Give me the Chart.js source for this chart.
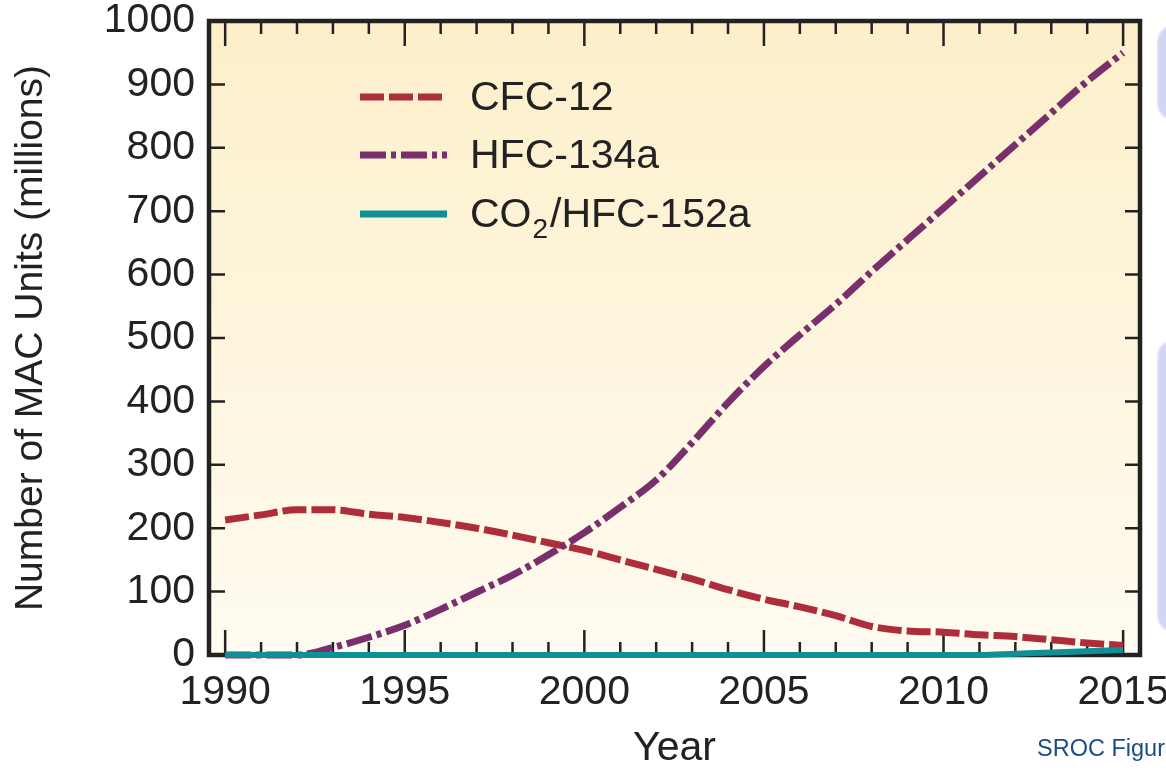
<!DOCTYPE html>
<html>
<head>
<meta charset="utf-8">
<script src="https://cdn.jsdelivr.net/npm/chart.js@4.4.1/dist/chart.umd.min.js"></script>
<style>
  html, body { margin: 0; padding: 0; background: #fff; overflow: hidden; }
  #wrap { position: relative; width: 1166px; height: 771px; overflow: hidden; }
  .side { position: absolute; left: 1157px; width: 40px; background: #d4d5f4;
          border: 2px solid #e2e3fa; border-radius: 16px; }
  #sroc { position: absolute; left: 1037px; top: 735px; font: 23.5px "Liberation Sans", Arial, sans-serif;
          color: #1c4c88; white-space: nowrap; }
</style>
</head>
<body>
<div id="wrap">
  <canvas id="macChart" width="1166" height="771"></canvas>
  <div class="side" style="top:25px;height:91px"></div>
  <div class="side" style="top:340px;height:288px"></div>
  <div id="sroc">SROC Figure</div>
</div>
<script>
const FONT = '"Liberation Sans", Arial, Helvetica, sans-serif';
const INK = '#222222';

// data (millions of units)
const years = [1990, 1991, 1992, 1993, 1994, 1995, 1996, 1997, 1998, 1999, 2000, 2001, 2002,
               2003, 2004, 2005, 2006, 2007, 2008, 2009, 2010, 2011, 2012, 2013, 2014, 2015];
const cfc12 = [213, 221, 229, 229, 222, 217, 209, 200, 189, 177, 165, 150, 135,
               120, 103, 88, 76, 62, 45, 38, 36, 32, 29, 24, 19, 15];
const hfc134a = [0, 0, 0, 12, 28, 47, 72, 99, 126, 158, 193, 233, 276,
                 335, 398, 455, 505, 553, 605, 655, 705, 755, 805, 855, 905, 950];
const co2hfc152a = [0, 0, 0, 0, 0, 0, 0, 0, 0, 0, 0, 0, 0,
                    0, 0, 0, 0, 0, 0, 0, 0, 0, 2, 4, 6, 8];

const xTickValues = [1990, 1995, 2000, 2005, 2010, 2015];
const yTickValues = [0, 100, 200, 300, 400, 500, 600, 700, 800, 900, 1000];
const seriesNames = ['CFC-12', 'HFC-134a', 'CO2/HFC-152a'];

const colors = ['#ae2d3b', '#7a2f6d', '#0f8f96'];
const dashes = [[24, 5], [26, 5, 5, 5], []];

// background, frame and inward ticks
const frameTicks = {
  id: 'frameTicks',
  beforeDraw(chart) {
    const { ctx, chartArea: a } = chart;
    const g = ctx.createLinearGradient(0, a.top, 0, a.bottom);
    g.addColorStop(0, '#fcefca');
    g.addColorStop(1, '#fffbf0');
    ctx.save();
    ctx.fillStyle = g;
    ctx.fillRect(a.left, a.top, a.right - a.left, a.bottom - a.top);
    ctx.restore();
  },
  beforeDatasetsDraw(chart) {
    const { ctx, chartArea: a, scales: { x, y } } = chart;
    ctx.save();
    ctx.strokeStyle = INK;
    ctx.lineWidth = 2.5;
    ctx.beginPath();
    years.forEach(yr => {
      const px = x.getPixelForValue(yr);
      const len = yr % 5 === 0 ? 25 : 13;
      ctx.moveTo(px, a.bottom); ctx.lineTo(px, a.bottom - len);
      ctx.moveTo(px, a.top); ctx.lineTo(px, a.top + len);
    });
    yTickValues.forEach(v => {
      const py = y.getPixelForValue(v);
      ctx.moveTo(a.left, py); ctx.lineTo(a.left + 16, py);
      ctx.moveTo(a.right, py); ctx.lineTo(a.right - 15, py);
    });
    ctx.stroke();
    ctx.lineWidth = 4.5;
    ctx.strokeRect(a.left, a.top, a.right - a.left, a.bottom - a.top);
    ctx.restore();
  }
};

// legend inside the plot, with a real subscript for CO2
const insideLegend = {
  id: 'insideLegend',
  afterDatasetsDraw(chart) {
    const { ctx } = chart;
    const rows = [110, 168, 227];
    ctx.save();
    rows.forEach((base, i) => {
      const ly = base - 13;
      ctx.strokeStyle = colors[i];
      ctx.lineWidth = 7;
      ctx.lineCap = 'butt';
      ctx.setLineDash(dashes[i]);
      ctx.beginPath();
      ctx.moveTo(360, ly);
      ctx.lineTo(447, ly);
      ctx.stroke();
    });
    ctx.setLineDash([]);
    ctx.fillStyle = INK;
    ctx.textBaseline = 'alphabetic';
    ctx.textAlign = 'left';
    ctx.font = '41px ' + FONT;
    ctx.fillText(seriesNames[0], 470, rows[0]);
    ctx.fillText(seriesNames[1], 470, rows[1]);
    let tx = 470;
    ctx.fillText('CO', tx, rows[2]);
    tx += ctx.measureText('CO').width;
    ctx.font = '28px ' + FONT;
    ctx.fillText('2', tx + 1, rows[2] + 11);
    tx += ctx.measureText('2').width + 3;
    ctx.font = '41px ' + FONT;
    ctx.fillText('/HFC-152a', tx, rows[2]);
    ctx.restore();
  }
};

function noEdgePadding(s) {
  s.paddingTop = 0; s.paddingBottom = 0; s.paddingLeft = 0; s.paddingRight = 0;
}

const ctx = document.getElementById('macChart').getContext('2d');
const macChart = new Chart(ctx, {
  type: 'line',
  data: {
    labels: years,
    datasets: [cfc12, hfc134a, co2hfc152a].map((vals, i) => ({
      label: seriesNames[i],
      data: vals,
      borderColor: colors[i],
      borderWidth: i === 2 ? 6 : 7,
      borderDash: dashes[i],
      borderCapStyle: 'butt',
      pointRadius: 0,
      cubicInterpolationMode: 'monotone',
      fill: false,
      clip: false
    })).reverse()
  },
  options: {
    responsive: false,
    animation: false,
    layout: { padding: { top: 21, right: 26, left: 0, bottom: 0 } },
    plugins: { legend: { display: false }, tooltip: { enabled: false } },
    scales: {
      x: {
        type: 'linear',
        min: 1989.55,
        max: 2015.47,
        afterFit(s) { s.height = 116; noEdgePadding(s); },
        afterBuildTicks(s) { s.ticks = xTickValues.map(v => ({ value: v })); },
        grid: { display: false, drawTicks: false },
        border: { display: false },
        ticks: {
          autoSkip: false, maxRotation: 0, padding: 13,
          color: INK, font: { family: FONT, size: 41 },
          callback: v => String(v)
        },
        title: {
          display: true, text: 'Year', color: INK,
          font: { family: FONT, size: 41, lineHeight: 1.1 },
          padding: { top: 0, bottom: 0 }
        }
      },
      y: {
        min: 0,
        max: 1000,
        afterFit(s) { s.width = 209; noEdgePadding(s); },
        afterBuildTicks(s) { s.ticks = yTickValues.map(v => ({ value: v })); },
        grid: { display: false, drawTicks: false },
        border: { display: false },
        ticks: {
          padding: 14, color: INK, font: { family: FONT, size: 41 },
          callback: v => String(v)
        },
        title: {
          display: true, text: 'Number of MAC Units (millions)', color: INK,
          font: { family: FONT, size: 39, lineHeight: 1.2 },
          padding: { top: 8, bottom: 0 }
        }
      }
    }
  },
  plugins: [frameTicks, insideLegend]
});
</script>
</body>
</html>
